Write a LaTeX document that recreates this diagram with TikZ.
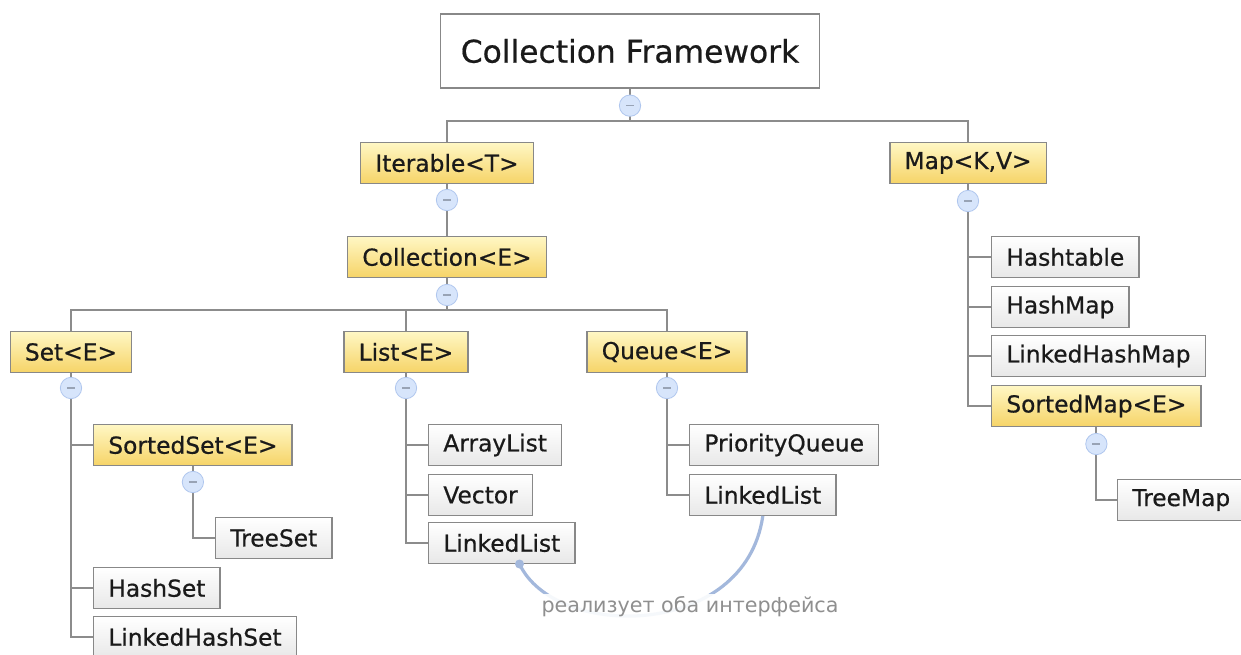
\documentclass[tikz,border=0pt]{standalone}
\usepackage{fontspec}
\setmainfont{DejaVu Sans}
\newfontfamily\boxfont[FakeBold=0.6]{DejaVu Sans}
\usetikzlibrary{calc,backgrounds}
\definecolor{linegray}{HTML}{8C8C8C}
\definecolor{boxgray}{HTML}{888888}
\definecolor{ytop}{HTML}{FFF7C4}
\definecolor{ybot}{HTML}{F6D468}
\definecolor{wbot}{HTML}{E8E8E8}
\definecolor{tfill}{HTML}{D7E5FB}
\definecolor{tdraw}{HTML}{AFC6EE}
\definecolor{minusgray}{HTML}{98A3B5}
\definecolor{textblack}{HTML}{1A1A1A}
\definecolor{linkblue}{HTML}{A3B8DC}
\definecolor{labgray}{HTML}{8F8F8F}
\begin{document}
\begin{tikzpicture}[x=0.75pt,y=-0.75pt,
  edge/.style={draw=linegray, line width=1.6pt},
  box/.style={draw=boxgray, line width=1pt, inner xsep=11pt, inner ysep=0pt,
    minimum height=30.5pt, font=\boxfont\fontsize{17.5}{20}\selectfont, text=textblack},
  ibox/.style={box, top color=ytop, bottom color=ybot},
  cbox/.style={box, top color=white, bottom color=wbot},
  tog/.style={circle, minimum size=16pt, inner sep=0pt, fill=tfill, draw=tdraw,
    line width=0.6pt,
    path picture={\draw[minusgray, line width=1.2pt]
      ([xshift=-3pt]path picture bounding box.center) --
      ([xshift=3pt]path picture bounding box.center);}},
  implink/.style={draw=linkblue, line width=2.4pt},
]
\useasboundingbox (0,0) rectangle (1241,655);
\clip (0,0) rectangle (1241,655);

% boxes
\node[box, fill=white, minimum height=55.5pt, inner xsep=15pt,
      font=\boxfont\fontsize{23.5}{28}\selectfont] (root) at (630,51) {Collection Framework};
\node[ibox, anchor=north] (iter) at (447,142) {Iterable<T>};
\node[ibox, anchor=north] (map) at (968,142) {Map<K,V>};
\node[ibox, anchor=north] (coll) at (447,236) {Collection<E>};
\node[ibox, anchor=north] (set) at (71,331) {Set<E>};
\node[ibox, anchor=north] (list) at (406,331) {List<E>};
\node[ibox, anchor=north] (queue) at (667,331) {Queue<E>};
\node[ibox, anchor=west] (sset) at (93,445) {SortedSet<E>};
\node[cbox, anchor=west] (tset) at (215,538) {TreeSet};
\node[cbox, anchor=west] (hset) at (93,588) {HashSet};
\node[cbox, anchor=west] (lhset) at (93,637) {LinkedHashSet};
\node[cbox, anchor=west] (alist) at (428,445) {ArrayList};
\node[cbox, anchor=west] (vec) at (428,495) {Vector};
\node[cbox, anchor=west] (llist) at (428,543) {LinkedList};
\node[cbox, anchor=west] (pq) at (689,445) {PriorityQueue};
\node[cbox, anchor=west] (qll) at (689,495) {LinkedList};
\node[cbox, anchor=west] (htab) at (991,257) {Hashtable};
\node[cbox, anchor=west] (hmap) at (991,307) {HashMap};
\node[cbox, anchor=west] (lhmap) at (991,356) {LinkedHashMap};
\node[ibox, anchor=west] (smap) at (991,406) {SortedMap<E>};
\node[cbox, anchor=west] (tmap) at (1117,500) {TreeMap};

% toggles
\path (root.south) ++(0,17) node[tog] (c0) {};
\path (iter.south) ++(0,16) node[tog] (ci) {};
\path (coll.south) ++(0,17) node[tog] (cc) {};
\path (set.south) ++(0,15) node[tog] (cs) {};
\path (list.south) ++(0,15) node[tog] (cl) {};
\path (queue.south) ++(0,15) node[tog] (cq) {};
\path (sset.south) ++(0,16) node[tog] (css) {};
\path (map.south) ++(0,17) node[tog] (cm) {};
\path (smap.south) ++(0,17) node[tog] (csm) {};

\coordinate (j0) at (630,121);
\coordinate (j1) at (447,310);

\begin{pgfonlayer}{background}
\fill[white] (0,0) rectangle (1241,655);
\draw[edge] (root.south) -- (j0);
\draw[edge] (iter.north) |- (j0) -| (map.north);
\draw[edge] (iter.south) -- (coll.north);
\draw[edge] (coll.south) -- (j1);
\draw[edge] (set.north) |- (j1) -| (queue.north);
\draw[edge] (list.north) -- (list.north |- j1);
\draw[edge] (set.south) |- (lhset.west);
\draw[edge] (cs.center) |- (sset.west);
\draw[edge] (cs.center) |- (hset.west);
\draw[edge] (sset.south) |- (tset.west);
\draw[edge] (list.south) |- (llist.west);
\draw[edge] (cl.center) |- (alist.west);
\draw[edge] (cl.center) |- (vec.west);
\draw[edge] (queue.south) |- (qll.west);
\draw[edge] (cq.center) |- (pq.west);
\draw[edge] (map.south) |- (smap.west);
\draw[edge] (cm.center) |- (htab.west);
\draw[edge] (cm.center) |- (hmap.west);
\draw[edge] (cm.center) |- (lhmap.west);
\draw[edge] (smap.south) |- (tmap.west);
\end{pgfonlayer}

% implementation link
\coordinate (la) at ($(llist.south west)!0.62!(llist.south east)$);
\draw[implink] (la) .. controls (555,640) and (745,640) .. (qll.south);
\fill[linkblue] (la) circle (4.5);
\node[fill=white, fill opacity=0.9, text opacity=1, text=labgray, inner sep=2pt,
      font=\fontsize{15.5}{18}\selectfont] (lab) at (690,607) {реализует оба интерфейса};
\end{tikzpicture}
\end{document}
